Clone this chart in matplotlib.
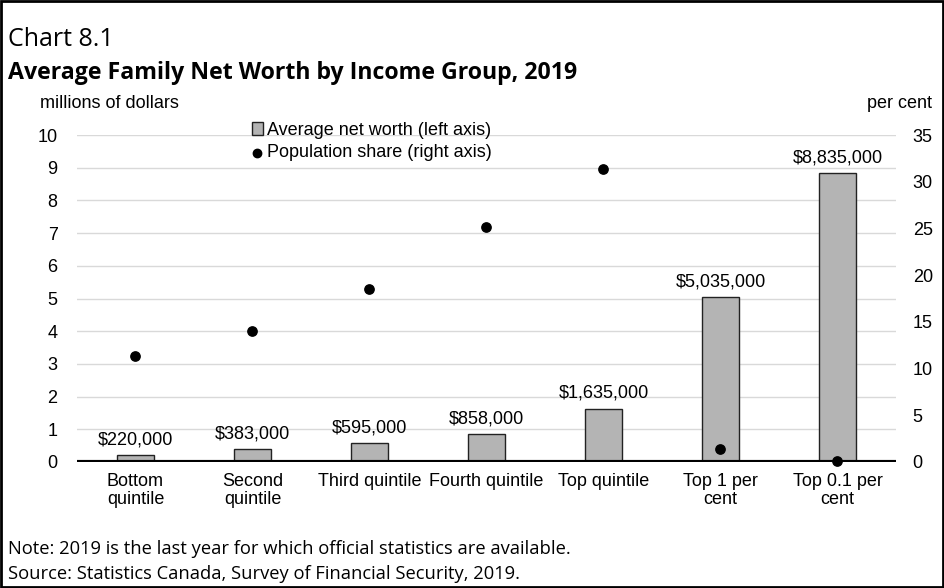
import matplotlib.pyplot as plt
import numpy as np
from matplotlib.patches import Rectangle

# DATA
groups = ["Bottom\nquintile", "Second\nquintile", "Third quintile", "Fourth quintile",
          "Top quintile", "Top 1 per\ncent", "Top 0.1 per\ncent"]
net_worth = [220000, 383000, 595000, 858000, 1635000, 5035000, 8835000]
pop_share = [11.3, 14.0, 18.5, 25.2, 31.4, 1.4, 0.1]
left_ticks = list(range(0, 11))
right_ticks = [0, 5, 10, 15, 20, 25, 30, 35]

plt.rcParams['font.family'] = ['Liberation Sans', 'DejaVu Sans']
fs = 13

fig = plt.figure(figsize=(9.45, 5.88), dpi=100)
ax = fig.add_axes([77/945, 1 - 462/588, (896-77)/945, (462-135)/588])
ax2 = ax.twinx()

x = np.arange(len(groups))
nw_m = np.array(net_worth) / 1e6

# BARS
bars = ax.bar(x, nw_m, width=0.31, color="#b4b4b4", edgecolor="#222222", linewidth=1,
              zorder=3, label="Average net worth (left axis)")
for xi, v in zip(x, net_worth):
    ax.text(xi, v/1e6 + 0.2, "${:,}".format(v), ha="center", va="bottom", fontsize=fs)

# DOTS
ax2.scatter(x, pop_share, s=45, color="black", zorder=5, clip_on=False,
            label="Population share (right axis)")

ax.set_xlim(-0.5, len(groups) - 0.5)
ax.set_ylim(0, 10)
ax2.set_ylim(0, 35)
ax.set_yticks(left_ticks)
ax2.set_yticks(right_ticks)
ax.grid(axis="y", color="#d9d9d9", linewidth=1, zorder=0)
ax.set_axisbelow(True)

for a in (ax, ax2):
    for s in a.spines.values():
        s.set_visible(False)
    a.tick_params(length=0, labelsize=fs)
ax.axhline(0, color="black", linewidth=3, zorder=4)

ax.set_xticks(x)
ax.set_xticklabels(groups, fontsize=fs, linespacing=1.05)
ax.tick_params(axis="x", pad=8)
ax.tick_params(axis="y", pad=14)
ax2.tick_params(axis="y", pad=12)
ax2.set_zorder(ax.get_zorder() + 1)
ax2.patch.set_visible(False)

# LEGEND
h1, l1 = ax.get_legend_handles_labels()
h2, l2 = ax2.get_legend_handles_labels()
leg = fig.legend(h1 + h2, l1 + l2, loc="upper left", bbox_to_anchor=(243/945, 1 - 113/588),
                 frameon=False, fontsize=fs, handlelength=0.6, handletextpad=0.25,
                 labelspacing=0.3, borderpad=0, markerscale=0.9)

# TEXTS
fig.text(40/945, 1 - 103/588, "millions of dollars", fontsize=fs, va="center")
fig.text(932/945, 1 - 103/588, "per cent", fontsize=fs, va="center", ha="right")
fig.text(8/945, 1 - 40/588, "Chart 8.1", fontsize=18, va="center", family=["Open Sans"])
fig.text(8/945, 1 - 73/588, "Average Family Net Worth by Income Group, 2019", fontsize=16.7,
         fontweight="bold", va="center", family=["Open Sans"])
fig.text(8/945, 1 - 549/588, "Note: 2019 is the last year for which official statistics are available.",
         fontsize=13.2, va="center", family=["Open Sans"])
fig.text(8/945, 1 - 574/588, "Source: Statistics Canada, Survey of Financial Security, 2019.",
         fontsize=13.2, va="center", family=["Open Sans"])

# BORDER
fig.patches.append(Rectangle((0.001, 0.002), 0.997, 0.996, transform=fig.transFigure,
                             fill=False, edgecolor="black", linewidth=2))

fig.savefig("out.png", dpi=100)
